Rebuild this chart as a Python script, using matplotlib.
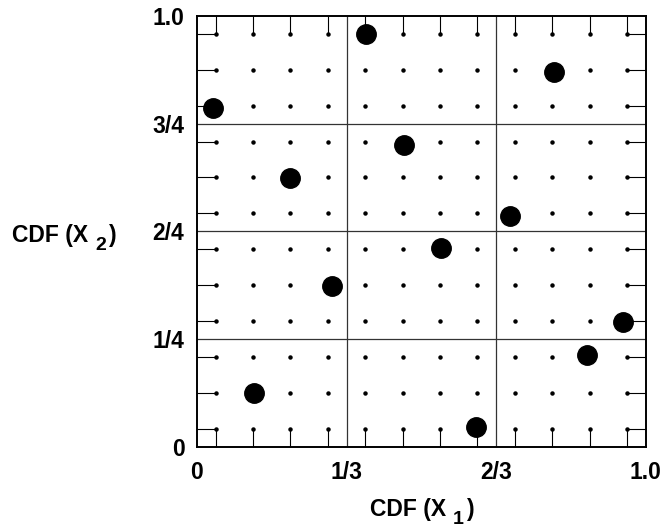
import matplotlib
matplotlib.use("Agg")
import matplotlib.pyplot as plt
import numpy as np

plt.rcParams['font.family'] = ['Liberation Sans', 'DejaVu Sans']

# Latin hypercube sample points (CDF of X1, CDF of X2)
sample_x1 = [0.036, 0.127, 0.207, 0.301, 0.376, 0.461, 0.543, 0.621, 0.697, 0.795, 0.869, 0.949]
sample_x2 = [0.785, 0.125, 0.624, 0.374, 0.958, 0.701, 0.462, 0.046, 0.536, 0.870, 0.214, 0.290]

n_cells = 12
x_major = [0, 1/3, 2/3, 1.0]
x_labels = ['0', '1/3', '2/3', '1.0']
y_major = [0, 0.25, 0.5, 0.75, 1.0]
y_labels = ['0', '1/4', '2/4', '3/4', '1.0']
x_title, x_sub = 'CDF (X', '1'
y_title, y_sub = 'CDF (X', '2'

FS = 16.5
SUB_FS = 14

fig = plt.figure(figsize=(6.63, 5.27), dpi=100)
ax = fig.add_axes([0.297, 0.152, 0.677, 0.818])
ax.set_xlim(0, 1)
ax.set_ylim(0, 1)

centers = (np.arange(n_cells) + 0.5) / n_cells
gx, gy = np.meshgrid(centers, centers)
ax.plot(gx.ravel(), gy.ravel(), 'o', color='black', markersize=2.2, zorder=2)

for v in x_major[1:-1]:
    ax.axvline(v, color='#333333', lw=0.9, zorder=1)
for v in y_major[1:-1]:
    ax.axhline(v, color='#333333', lw=0.9, zorder=1)

ax.plot(sample_x1, sample_x2, 'o', color='black', markersize=14, zorder=3)

ax.set_xticks(x_major)
ax.set_xticklabels(x_labels)
ax.set_yticks(y_major)
ax.set_yticklabels(y_labels)
ax.tick_params(which='major', length=0, labelsize=FS)
for t in ax.get_xticklabels() + ax.get_yticklabels():
    t.set_fontweight('bold')
ax.tick_params(axis='x', pad=10)
ax.tick_params(axis='y', pad=9)

ax.set_xticks(centers, minor=True)
ax.set_yticks(centers, minor=True)
ax.tick_params(which='minor', direction='in', length=13, width=0.8,
               top=True, right=True, bottom=True, left=True)

for s in ax.spines.values():
    s.set_linewidth(1.4)


def composite_label(x, y, main, sub):
    t1 = fig.text(x, y, main, fontsize=FS, fontweight='bold',
                  ha='left', va='baseline')
    s = fig.add_artist(matplotlib.text.Annotation(
        sub, xy=(1, 0), xycoords=t1, xytext=(5, 7),
        textcoords='offset points', fontsize=SUB_FS,
        fontweight='bold', ha='left', va='top'))
    fig.add_artist(matplotlib.text.Annotation(
        ')', xy=(1, 0), xycoords=(s, t1), xytext=(2, 0),
        textcoords='offset points', fontsize=FS, fontweight='bold',
        ha='left', va='bottom'))


composite_label(370 / 663, 1 - 516 / 527, x_title, x_sub)
composite_label(12 / 663, 1 - 242 / 527, y_title, y_sub)

fig.savefig('out.png', dpi=100)
